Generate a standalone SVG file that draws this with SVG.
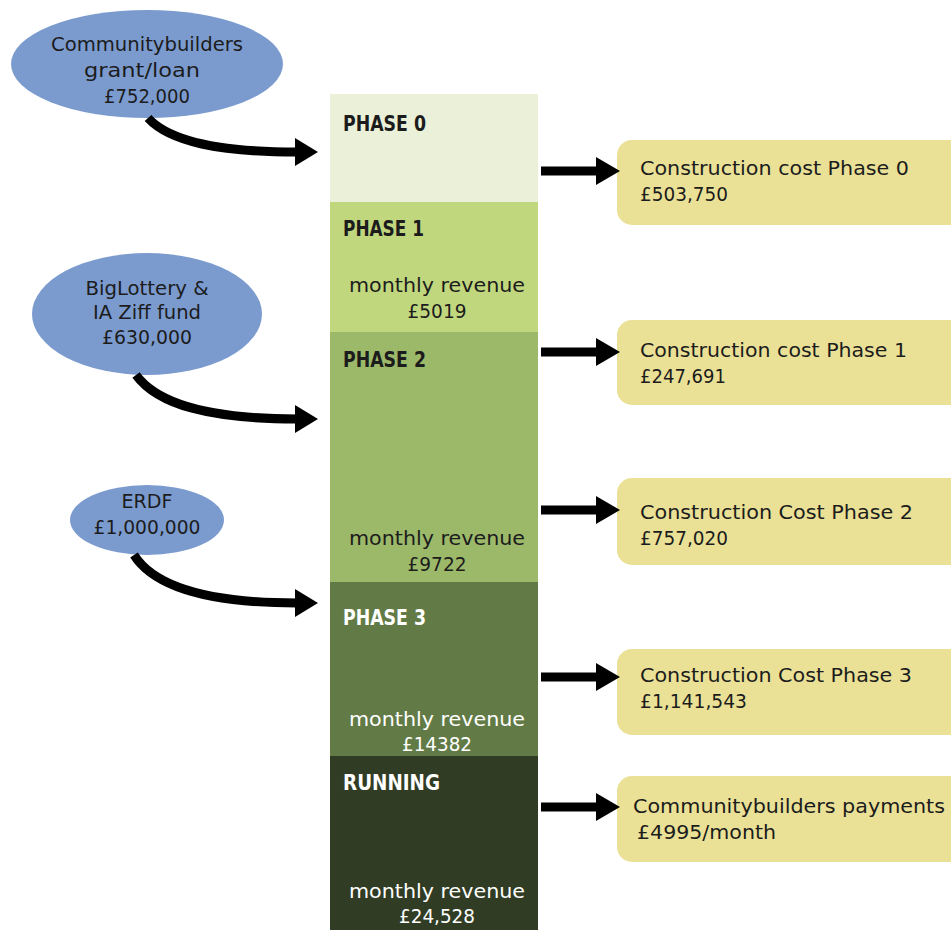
<svg xmlns="http://www.w3.org/2000/svg" width="951" height="930" viewBox="0 0 951 930">
<style>
text{font-family:"DejaVu Sans","Liberation Sans",sans-serif;font-size:20px;fill:#1c1c1c}
.c{text-anchor:middle}
.b{font-weight:bold;font-size:20.5px;font-family:"DejaVu Sans Condensed","DejaVu Sans",sans-serif}
.w{fill:#ffffff}
.src{fill:#7b9bcf}
.cost{fill:#eae197}
.curve{fill:none;stroke:#000;stroke-width:9}
.shaft{fill:none;stroke:#000;stroke-width:9}
.head{fill:#000}
</style>
<rect width="951" height="930" fill="#ffffff"/>

<g id="phase0"><rect x="330" y="94" width="208" height="108" fill="#ebf0d8"/>
<text class="b" x="343" y="131" textLength="83" lengthAdjust="spacingAndGlyphs">PHASE 0</text></g>
<g id="phase1"><rect x="330" y="202" width="208" height="130" fill="#c1d77e"/>
<text class="b" x="343" y="236" textLength="81" lengthAdjust="spacingAndGlyphs">PHASE 1</text>
<text class="c" x="437" y="292" textLength="176" lengthAdjust="spacingAndGlyphs">monthly revenue</text>
<text class="c" x="437" y="318" textLength="59" lengthAdjust="spacingAndGlyphs">£5019</text></g>
<g id="phase2"><rect x="330" y="332" width="208" height="250" fill="#9cb96a"/>
<text class="b" x="343" y="367" textLength="83" lengthAdjust="spacingAndGlyphs">PHASE 2</text>
<text class="c" x="437" y="545" textLength="176" lengthAdjust="spacingAndGlyphs">monthly revenue</text>
<text class="c" x="437" y="571" textLength="59" lengthAdjust="spacingAndGlyphs">£9722</text></g>
<g id="phase3"><rect x="330" y="582" width="208" height="174" fill="#627b46"/>
<text class="b w" x="343" y="625" textLength="83" lengthAdjust="spacingAndGlyphs">PHASE 3</text>
<text class="c w" x="437" y="726" textLength="176" lengthAdjust="spacingAndGlyphs">monthly revenue</text>
<text class="c w" x="437" y="751" textLength="70" lengthAdjust="spacingAndGlyphs">£14382</text></g>
<g id="running"><rect x="330" y="756" width="208" height="174" fill="#313c24"/>
<text class="b w" x="343" y="790" textLength="97" lengthAdjust="spacingAndGlyphs">RUNNING</text>
<text class="c w" x="437" y="898" textLength="176" lengthAdjust="spacingAndGlyphs">monthly revenue</text>
<text class="c w" x="437" y="923" textLength="76" lengthAdjust="spacingAndGlyphs">£24,528</text></g>

<g id="src-communitybuilders"><ellipse class="src" cx="147" cy="64" rx="136" ry="54"/>
<text class="c" x="147" y="51" textLength="192" lengthAdjust="spacingAndGlyphs">Communitybuilders</text>
<text class="c" x="142" y="77" textLength="116" lengthAdjust="spacingAndGlyphs">grant/loan</text>
<text class="c" x="147" y="103" textLength="86" lengthAdjust="spacingAndGlyphs">£752,000</text></g>
<g id="src-biglottery"><ellipse class="src" cx="147" cy="314" rx="115" ry="61"/>
<text class="c" x="147" y="295" textLength="123" lengthAdjust="spacingAndGlyphs">BigLottery &amp;</text>
<text class="c" x="147" y="319" textLength="108" lengthAdjust="spacingAndGlyphs">IA Ziff fund</text>
<text class="c" x="147" y="344" textLength="90" lengthAdjust="spacingAndGlyphs">£630,000</text></g>
<g id="src-erdf"><ellipse class="src" cx="147" cy="520" rx="77" ry="35"/>
<text class="c" x="147" y="508" textLength="51" lengthAdjust="spacingAndGlyphs">ERDF</text>
<text class="c" x="147" y="534" textLength="107" lengthAdjust="spacingAndGlyphs">£1,000,000</text></g>

<g id="cost0"><rect class="cost" x="617" y="140" width="352" height="85" rx="15"/>
<text x="640" y="175" textLength="269" lengthAdjust="spacingAndGlyphs">Construction cost Phase 0</text>
<text x="640" y="201" textLength="88" lengthAdjust="spacingAndGlyphs">£503,750</text></g>
<g id="cost1"><rect class="cost" x="617" y="320" width="352" height="85" rx="15"/>
<text x="640" y="357" textLength="267" lengthAdjust="spacingAndGlyphs">Construction cost Phase 1</text>
<text x="640" y="383" textLength="86" lengthAdjust="spacingAndGlyphs">£247,691</text></g>
<g id="cost2"><rect class="cost" x="617" y="478" width="352" height="87" rx="15"/>
<text x="640" y="519" textLength="273" lengthAdjust="spacingAndGlyphs">Construction Cost Phase 2</text>
<text x="640" y="545" textLength="88" lengthAdjust="spacingAndGlyphs">£757,020</text></g>
<g id="cost3"><rect class="cost" x="617" y="649" width="352" height="86" rx="15"/>
<text x="640" y="682" textLength="272" lengthAdjust="spacingAndGlyphs">Construction Cost Phase 3</text>
<text x="640" y="708" textLength="107" lengthAdjust="spacingAndGlyphs">£1,141,543</text></g>
<g id="payments"><rect class="cost" x="617" y="776" width="352" height="86" rx="15"/>
<text x="633" y="813" textLength="312" lengthAdjust="spacingAndGlyphs">Communitybuilders payments</text>
<text x="637" y="839" textLength="139" lengthAdjust="spacingAndGlyphs">£4995/month</text></g>

<g id="connectors">
<path class="curve" d="M148 118 C170 142 220 152 297 152"/>
<polygon class="head" points="295,138 318,152 295,166"/>
<path class="curve" d="M136 375 C158 405 210 419 297 419"/>
<polygon class="head" points="295,405 318,419 295,433"/>
<path class="curve" d="M134 555 C155 588 210 603 297 603"/>
<polygon class="head" points="295,589 318,603 295,617"/>
<path class="shaft" d="M541 171 H598"/>
<polygon class="head" points="596,157 620,171 596,185"/>
<path class="shaft" d="M541 352 H598"/>
<polygon class="head" points="596,338 620,352 596,366"/>
<path class="shaft" d="M541 510 H598"/>
<polygon class="head" points="596,496 620,510 596,524"/>
<path class="shaft" d="M541 677 H598"/>
<polygon class="head" points="596,663 620,677 596,691"/>
<path class="shaft" d="M541 807 H598"/>
<polygon class="head" points="596,793 620,807 596,821"/>
</g>
</svg>
